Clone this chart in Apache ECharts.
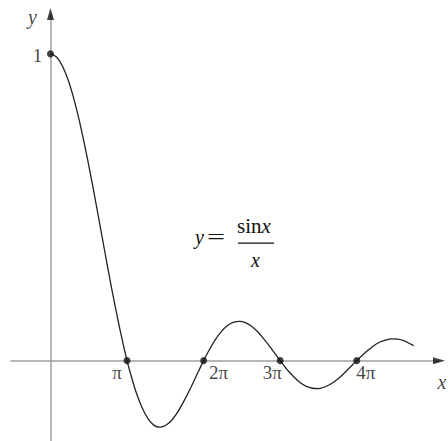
<!DOCTYPE html>
<html>
<head>
<meta charset="utf-8">
<script src="https://cdn.jsdelivr.net/npm/echarts@6/dist/echarts.min.js"></script>
<style>
  html, body { margin: 0; padding: 0; background: #fff; }
  #chart { width: 448px; height: 441px; }
</style>
</head>
<body>
<div id="chart"></div>
<script>
// y = sin x / x, sampled along x (radians)
const curveX = [0, 0.25, 0.5, 0.75, 1.0, 1.25, 1.5, 1.75, 2.0, 2.25, 2.5, 2.75, 3.0, 3.142,
  3.25, 3.5, 3.75, 4.0, 4.25, 4.5, 4.75, 5.0, 5.25, 5.5, 5.75, 6.0, 6.283,
  6.5, 6.75, 7.0, 7.25, 7.5, 7.75, 8.0, 8.25, 8.5, 8.75, 9.0, 9.25, 9.425,
  9.5, 9.75, 10.0, 10.25, 10.5, 10.75, 11.0, 11.25, 11.5, 11.75, 12.0, 12.25, 12.5, 12.566,
  12.75, 13.0, 13.25, 13.5, 13.75, 14.0, 14.25, 14.5, 14.75, 14.9];
const curveY = [1.000, 0.990, 0.959, 0.909, 0.841, 0.759, 0.665, 0.562, 0.455, 0.346, 0.239, 0.139, 0.047, 0,
  -0.033, -0.100, -0.152, -0.189, -0.211, -0.217, -0.210, -0.192, -0.164, -0.128, -0.089, -0.047, 0,
  0.033, 0.067, 0.094, 0.114, 0.125, 0.128, 0.124, 0.112, 0.094, 0.071, 0.046, 0.019, 0,
  -0.008, -0.033, -0.054, -0.072, -0.084, -0.090, -0.091, -0.086, -0.076, -0.062, -0.045, -0.025, -0.005, 0,
  0.014, 0.032, 0.048, 0.060, 0.067, 0.071, 0.070, 0.065, 0.055, 0.049];

// marked zeros on the x axis and their labels
const zeroX = [Math.PI, 2 * Math.PI, 3 * Math.PI, 4 * Math.PI];
const zeroLabels = ['π', '2π', '3π', '4π'];
const zeroLabelOffsets = [[-10, 12], [15, 12], [-8, 12], [9, 12]];

// axis extents
const xRange = [-1.62, 15.94];
const yRange = [-0.262, 1.130];

const SERIF = '"Liberation Serif", "DejaVu Serif", serif';
const AXIS_GRAY = '#a0a0a0';
const INK = '#222';

const curveData = curveX.map((x, i) => [x, curveY[i]]);

const dotData = [{
  value: [0, 1],
  label: { show: true, formatter: '1', offset: [-13, 2] }
}].concat(zeroX.map((x, i) => ({
  value: [x, 0],
  label: { show: true, formatter: zeroLabels[i], offset: zeroLabelOffsets[i] }
})));

const arrowData = [
  { value: [xRange[1], 0], symbolRotate: -90,
    label: { show: true, formatter: 'x', offset: [3, 21] } },
  { value: [0, yRange[1]], symbolRotate: 0,
    label: { show: true, formatter: 'y', offset: [-18, 3] } }
];

const chart = echarts.init(document.getElementById('chart'), null, { renderer: 'svg' });

chart.setOption({
  animation: false,
  backgroundColor: '#fff',
  grid: { left: 11, right: 9, top: 14, bottom: 0, containLabel: false },
  xAxis: {
    type: 'value', min: xRange[0], max: xRange[1],
    axisLine: { onZero: true, lineStyle: { color: AXIS_GRAY, width: 1.5 } },
    axisTick: { show: false }, axisLabel: { show: false }, splitLine: { show: false }
  },
  yAxis: {
    type: 'value', min: yRange[0], max: yRange[1],
    axisLine: { show: true, onZero: true, lineStyle: { color: AXIS_GRAY, width: 1.5 } },
    axisTick: { show: false }, axisLabel: { show: false }, splitLine: { show: false }
  },
  series: [
    {
      name: 'sinc',
      type: 'line',
      data: curveData,
      smooth: 0.2,
      showSymbol: false,
      lineStyle: { color: INK, width: 1.3 },
      z: 3
    },
    {
      name: 'points',
      type: 'scatter',
      data: dotData,
      symbol: 'circle',
      symbolSize: 7,
      itemStyle: { color: '#111' },
      label: {
        position: 'inside',
        color: '#111',
        fontFamily: SERIF,
        fontSize: 19,
        align: 'center',
        verticalAlign: 'middle'
      },
      z: 4
    },
    {
      name: 'arrows',
      type: 'scatter',
      data: arrowData,
      symbol: 'triangle',
      symbolSize: [7, 12],
      itemStyle: { color: '#111' },
      label: {
        position: 'inside',
        color: '#111',
        fontFamily: SERIF,
        fontStyle: 'italic',
        fontSize: 20,
        align: 'center',
        verticalAlign: 'middle'
      },
      z: 4
    }
  ],
  graphic: [
    {
      type: 'text', x: 195, y: 227,
      style: { text: 'y', font: 'italic 20px ' + SERIF, fill: '#111' }
    },
    {
      type: 'text', x: 207, y: 227, scaleX: 1.6,
      style: { text: '=', font: '20px ' + SERIF, fill: '#111' }
    },
    {
      type: 'text', x: 237, y: 215,
      style: {
        text: '{r|sin}{i|x}',
        rich: {
          r: { font: '21px ' + SERIF, fill: '#111' },
          i: { font: 'italic 21px ' + SERIF, fill: '#111' }
        }
      }
    },
    {
      type: 'rect', shape: { x: 238, y: 242.5, width: 36, height: 1.2 },
      style: { fill: '#111' }
    },
    {
      type: 'text', x: 251, y: 250,
      style: { text: 'x', font: 'italic 20px ' + SERIF, fill: '#111' }
    }
  ]
});
</script>
</body>
</html>
